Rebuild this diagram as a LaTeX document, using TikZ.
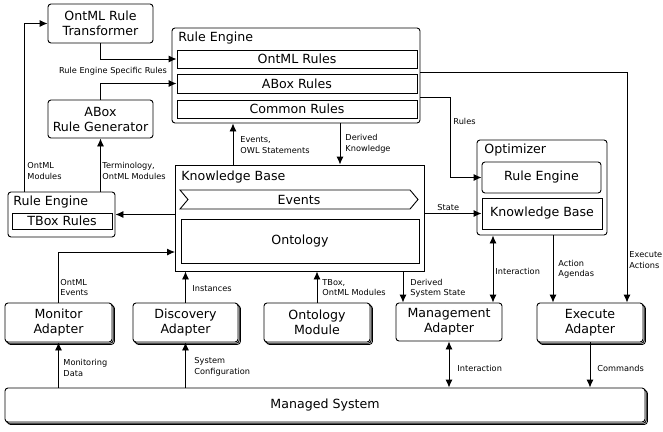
\documentclass[tikz,border=0pt]{standalone}
\usepackage{fontspec}
\setmainfont{DejaVu Sans}
\usetikzlibrary{arrows.meta,shapes.symbols,shadows}
\tikzset{
  box/.style={draw, rounded corners=3pt, fill=white, align=center, inner sep=0pt,
    font=\fontsize{12.6}{15}\selectfont},
  stackbox/.style={box,
    copy shadow={shadow xshift=2.4pt, shadow yshift=-2.4pt, fill=white, draw=black},
    copy shadow={shadow xshift=1.2pt, shadow yshift=-1.2pt, fill=white, draw=black}},
  inbox/.style={box, rounded corners=0pt},
  title/.style={anchor=west, inner sep=0pt, font=\fontsize{12.6}{15}\selectfont},
  lbl/.style={anchor=west, align=left, inner sep=0pt, font=\fontsize{8.2}{10.5}\selectfont},
  conn/.style={draw, -{Latex[length=8pt,width=7pt]}},
  dconn/.style={draw, {Latex[length=8pt,width=7pt]}-{Latex[length=8pt,width=7pt]}}
}
\begin{document}
\begin{tikzpicture}[x=1pt, y=-1pt, line width=0.9pt]
  \useasboundingbox (0,0) rectangle (663,431);
  % rule side
  \node[box, minimum width=105pt, minimum height=39pt] (trans) at (100.5,23.5) {OntML Rule\\Transformer};
  \node[box, minimum width=105pt, minimum height=38pt] (gen) at (100.5,119) {ABox\\Rule Generator};
  \node[box, minimum width=248pt, minimum height=95pt] (re) at (296,75.5) {};
  \node[title] (retitle) at (178,38) {Rule Engine};
  \node[inbox, minimum width=240pt, minimum height=18pt] (omlr) at (297,59) {OntML Rules};
  \node[inbox, minimum width=240pt, minimum height=19pt] (aboxr) at (297,83.5) {ABox Rules};
  \node[inbox, minimum width=240pt, minimum height=18pt] (commr) at (297,109) {Common Rules};
  \node[box, minimum width=107pt, minimum height=45pt] (tre) at (61.5,214.5) {};
  \node[title] (tretitle) at (13,202) {Rule Engine};
  \node[inbox, minimum width=100pt, minimum height=16pt] (tbox) at (62,221) {TBox Rules};
  % knowledge base
  \node[inbox, minimum width=249pt, minimum height=106pt] (kb) at (299.5,218) {};
  \node[title] (kbtitle) at (181,177) {Knowledge Base};
  \node[inbox, signal, signal from=west, signal to=east, signal pointer angle=100,
    minimum width=238pt, minimum height=19pt] (events) at (299,199.5) {Events};
  \node[inbox, minimum width=238pt, minimum height=44pt] (onto) at (300,241) {Ontology};
  % optimizer
  \node[box, minimum width=130pt, minimum height=95pt] (opt) at (542,187.5) {};
  \node[title] (opttitle) at (484,150) {Optimizer};
  \node[box, minimum width=119pt, minimum height=31pt] (ore) at (541.5,177.5) {Rule Engine};
  \node[inbox, minimum width=120pt, minimum height=31pt] (okb) at (542,213.5) {Knowledge Base};
  % adapters
  \node[stackbox, minimum width=107pt, minimum height=39pt] (mon) at (58.5,322.5) {Monitor\\Adapter};
  \node[stackbox, minimum width=105pt, minimum height=39pt] (disc) at (185.5,322.5) {Discovery\\Adapter};
  \node[stackbox, minimum width=106pt, minimum height=39pt] (ontm) at (317,322.5) {Ontology\\Module};
  \node[box, minimum width=106pt, minimum height=38pt] (mgmt) at (449,322) {Management\\Adapter};
  \node[stackbox, minimum width=106pt, minimum height=39pt] (exec) at (590,322.5) {Execute\\Adapter};
  \node[stackbox, minimum width=640pt, minimum height=34pt] (ms) at (325,405) {Managed System};
  % bend points
  \coordinate (evx) at (233,0);
  \coordinate (dkx) at (340,0);
  \coordinate (monin) at (175,252);
  \coordinate (dsx) at (403,0);
  \coordinate (rulesx) at (450,97);
  \coordinate (exx) at (627,72);
  \coordinate (agx) at (553,0);
  \coordinate (ix) at (493,0);
  % connectors
  \draw[conn] ([xshift=17pt]tre.north west) |- (trans.west);
  \draw[conn] (tre.north -| gen.south) -- (gen.south);
  \draw[conn] (trans.south) |- (omlr.west);
  \draw[conn] (gen.north) |- (aboxr.west);
  \draw[conn] (kb.north -| evx) -- (re.south -| evx);
  \draw[conn] (re.south -| dkx) -- (kb.north -| dkx);
  \draw[conn] (kb.west |- tre.east) -- (tre.east);
  \draw[conn] (mon.north) |- (monin);
  \draw[conn] (disc.north) -- (disc.north |- kb.south);
  \draw[conn] (ontm.north) -- (ontm.north |- kb.south);
  \draw[conn] (kb.south -| dsx) -- (mgmt.north -| dsx);
  \draw[conn] (kb.east |- okb.west) -- (okb.west);
  \draw[conn] (re.east |- rulesx) -- (rulesx) |- (ore.west);
  \draw[conn] (re.east |- exx) -| (exec.north -| exx);
  \draw[conn] (opt.south -| agx) -- (exec.north -| agx);
  \draw[dconn] (opt.south -| ix) -- (mgmt.north -| ix);
  \draw[dconn] (mgmt.south) -- (mgmt.south |- ms.north);
  \draw[conn] (exec.south) -- (exec.south |- ms.north);
  \draw[conn] (ms.north -| mon.south) -- (mon.south);
  \draw[conn] (ms.north -| disc.south) -- (disc.south);
  % labels
  \node[lbl, anchor=center] (lres) at (113,71) {Rule Engine Specific Rules};
  \node[lbl] (lomm) at (27,171) {OntML\\Modules};
  \node[lbl] (lterm) at (102,171) {Terminology,\\OntML Modules};
  \node[lbl] (lev) at (240,145) {Events,\\OWL Statements};
  \node[lbl] (ldk) at (345,143.5) {Derived\\Knowledge};
  \node[lbl] (lrules) at (453,121) {Rules};
  \node[lbl] (lstate) at (437,208) {State};
  \node[lbl] (lome) at (60,287.5) {OntML\\Events};
  \node[lbl] (linst) at (192,289) {Instances};
  \node[lbl] (ltbox) at (322,287.5) {TBox,\\OntML Modules};
  \node[lbl] (ldss) at (410,288) {Derived\\System State};
  \node[lbl] (lint) at (495,271) {Interaction};
  \node[lbl] (lag) at (558,269) {Action\\Agendas};
  \node[lbl] (lexa) at (629,260) {Execute\\Actions};
  \node[lbl] (lmd) at (63,368) {Monitoring\\Data};
  \node[lbl] (lsc) at (194,367) {System\\Configuration};
  \node[lbl] (lint2) at (457,368) {Interaction};
  \node[lbl] (lcmd) at (597,368) {Commands};
\end{tikzpicture}
\end{document}
